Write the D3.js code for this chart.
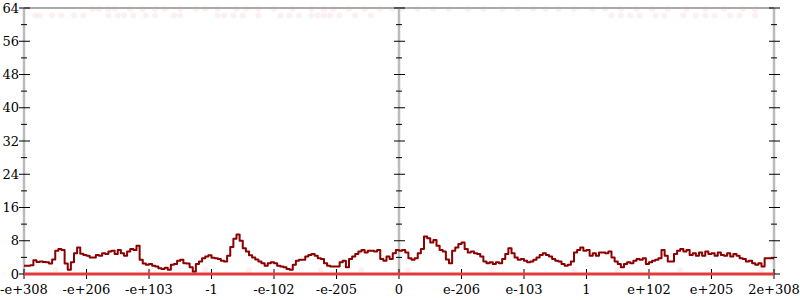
<!DOCTYPE html>
<html>
<head>
<meta charset="utf-8">
<script src="https://cdn.jsdelivr.net/npm/d3@7"></script>
<style>
  body { margin: 0; background: #fff; }
  svg { display: block; }
</style>
</head>
<body>
<svg id="chart" width="800" height="300"></svg>
<script>
const xLabels = ["-e+308","-e+206","-e+103","-1","-e-102","-e-205","0","e-206","e-103","1","e+102","e+205","2e+308"];
const yTicks = [0, 8, 16, 24, 32, 40, 48, 56, 64];
const binsPerLabel = 20;

// histogram counts, 20 bins between neighbouring labels
const counts = [
  2, 2, 2.1, 3.3, 2.9, 3.0, 2.9, 2.8, 2.5, 3.5, 5.6, 6.0, 5.8, 2.5, 1.0, 2.8, 5.0, 6.4, 4.9, 4.6,
  4.4, 4.0, 4.0, 4.6, 4.4, 5.0, 4.8, 5.4, 5.6, 4.8, 5.8, 5.0, 4.4, 5.4, 6.0, 5.8, 6.8, 3.4, 2.5, 2.2,
  2.4, 2.0, 1.8, 1.4, 1.2, 1.5, 1.0, 2.2, 2.4, 3.2, 3.4, 2.6, 2.5, 1.6, 0.6, 2.4, 3.0, 3.8, 4.2, 4.5,
  3.9, 3.8, 3.6, 3.2, 3.0, 4.4, 6.5, 8.5, 9.5, 8.0, 6.2, 5.4, 4.5, 4.0, 3.5, 3.0, 2.6, 2.0, 2.6, 2.8,
  2.6, 2.0, 1.8, 1.6, 1.2, 1.0, 2.2, 3.2, 3.4, 3.4, 4.2, 4.6, 4.8, 4.4, 3.8, 3.6, 2.6, 2.0, 1.8, 1.8,
  1.8, 2.8, 3.2, 1.6, 3.6, 4.2, 4.8, 5.4, 5.8, 5.2, 5.6, 5.6, 5.4, 5.8, 3.6, 3.2, 4.2, 3.6, 5.0, 5.8,
  5.6, 5.8, 5.2, 3.8, 3.4, 3.8, 5.0, 6.0, 9.0, 8.6, 7.6, 8.2, 6.8, 5.8, 5.4, 3.5, 2.6, 5.6, 6.4, 7.2,
  7.6, 6.0, 5.2, 5.4, 5.0, 4.8, 4.2, 3.0, 2.6, 2.8, 2.4, 2.8, 2.6, 3.6, 4.8, 6.2, 5.0, 4.0, 3.4, 3.6,
  3.2, 2.8, 3.0, 3.4, 4.0, 4.6, 5.0, 4.6, 4.2, 3.6, 3.2, 3.0, 2.4, 2.0, 2.2, 3.0, 5.2, 5.8, 6.4, 5.6,
  5.8, 4.4, 5.0, 4.4, 5.2, 5.2, 5.0, 5.4, 4.0, 3.0, 2.4, 1.6, 2.4, 2.8, 2.6, 3.2, 3.6, 3.4, 3.8, 2.4,
  2.8, 3.2, 3.4, 3.8, 5.8, 4.4, 3.0, 3.0, 4.8, 5.6, 6.0, 5.4, 5.8, 4.6, 5.0, 4.4, 5.2, 4.4, 5.4, 4.8,
  5.0, 4.4, 5.2, 4.6, 4.4, 5.0, 4.2, 4.8, 4.4, 3.8, 3.6, 3.0, 3.2, 2.6, 2.2, 2.6, 1.8, 3.8, 3.8, 3.8
];

// faint samples clipped at the top (bin positions)
const topRow = [22, 24, 27, 29, 34, 38, 42, 45, 50, 55, 58, 62, 68, 71, 75, 80, 86, 92, 96, 99, 104,
  109, 114, 118, 121, 126, 131, 136, 142, 147, 153, 158, 163, 167, 171, 176, 182, 186, 191, 196, 201, 206, 212, 218, 224, 230, 234];
const topRow2 = [3.5, 5, 9, 12, 16, 19, 27, 30, 32, 35, 39, 42, 50, 48, 62, 64, 67, 70, 75, 82, 85,
  88, 92, 94, 96, 98, 101, 106, 111, 188, 191, 194, 197, 202, 205, 211, 215, 218, 221, 226, 229, 234];
const bottomRow = [10, 40, 58, 72, 95, 108, 123, 150, 176, 190, 210, 236];

const svg = d3.select("#chart");
const x0 = 24, x1 = 774, yTop = 8, yBot = 274;
const nBins = (xLabels.length - 1) * binsPerLabel;

const x = d3.scaleLinear().domain([0, nBins]).range([x0, x1]);
const y = d3.scaleLinear().domain([0, 64]).range([yBot, yTop]);

const font = "DejaVu Serif";

// faint top points
svg.append("g").selectAll("circle")
  .data(topRow)
  .enter().append("circle")
  .attr("cx", d => x(d)).attr("cy", y(64) + 1).attr("r", 3)
  .attr("fill", "#e03030").attr("opacity", 0.07);
svg.append("g").selectAll("circle")
  .data(topRow2)
  .enter().append("circle")
  .attr("cx", d => x(d)).attr("cy", y(62.2)).attr("r", 3)
  .attr("fill", "#e03030").attr("opacity", 0.07);

// top border
svg.append("line")
  .attr("x1", x0).attr("x2", x1)
  .attr("y1", yTop).attr("y2", yTop)
  .attr("stroke", "#aaa").attr("stroke-width", 2);

// vertical axes: left, middle, right
const axisXs = [0, nBins / 2, nBins];
const minor = d3.range(4, 64, 8);
axisXs.forEach((b, i) => {
  const ax = x(b);
  svg.append("line")
    .attr("x1", ax).attr("x2", ax)
    .attr("y1", yTop).attr("y2", yBot)
    .attr("stroke", "#bbb").attr("stroke-width", 2.5);
  const g = svg.append("g");
  g.selectAll(".maj").data(yTicks).enter().append("line")
    .attr("x1", ax - 5).attr("x2", ax + 6)
    .attr("y1", d => y(d)).attr("y2", d => y(d))
    .attr("stroke", "#000").attr("stroke-width", 1);
  g.selectAll(".min").data(minor).enter().append("line")
    .attr("x1", ax - 3).attr("x2", ax + 3)
    .attr("y1", d => y(d)).attr("y2", d => y(d))
    .attr("stroke", "#000").attr("stroke-width", 1);
});

// y labels
svg.append("g").selectAll("text")
  .data(yTicks)
  .enter().append("text")
  .attr("x", x0 - 5)
  .attr("y", d => y(d))
  .attr("dy", "0.35em")
  .attr("text-anchor", "end")
  .attr("font-family", font)
  .attr("font-size", 13)
  .text(d => d);

// x ticks & labels
const xt = svg.append("g").selectAll("g")
  .data(xLabels)
  .enter().append("g");
xt.append("line")
  .attr("x1", (d, i) => x(i * binsPerLabel)).attr("x2", (d, i) => x(i * binsPerLabel))
  .attr("y1", yBot - 5).attr("y2", yBot + 5)
  .attr("stroke", "#000").attr("stroke-width", 1);
xt.append("text")
  .attr("x", (d, i) => x(i * binsPerLabel))
  .attr("y", 294)
  .attr("text-anchor", "middle")
  .attr("font-family", font)
  .attr("font-size", 13)
  .text(d => d);

// faint bottom points
svg.append("g").selectAll("circle")
  .data(bottomRow)
  .enter().append("circle")
  .attr("cx", d => x(d)).attr("cy", y(0) - 4).attr("r", 3)
  .attr("fill", "#e03030").attr("opacity", 0.07);

// zero line
svg.append("line")
  .attr("x1", x0).attr("x2", x1)
  .attr("y1", y(0)).attr("y2", y(0))
  .attr("stroke", "#e23a3a").attr("stroke-width", 3);

// histogram step line
const pts = counts.map((c, i) => [i, c]);
pts.push([nBins, counts[counts.length - 1]]);
const line = d3.line()
  .x(d => x(d[0]))
  .y(d => y(d[1]))
  .curve(d3.curveStepAfter);
svg.append("path")
  .datum(pts)
  .attr("d", line)
  .attr("fill", "none")
  .attr("stroke", "#8b0000")
  .attr("stroke-width", 2)
  .attr("stroke-linejoin", "round");
</script>
</body>
</html>
